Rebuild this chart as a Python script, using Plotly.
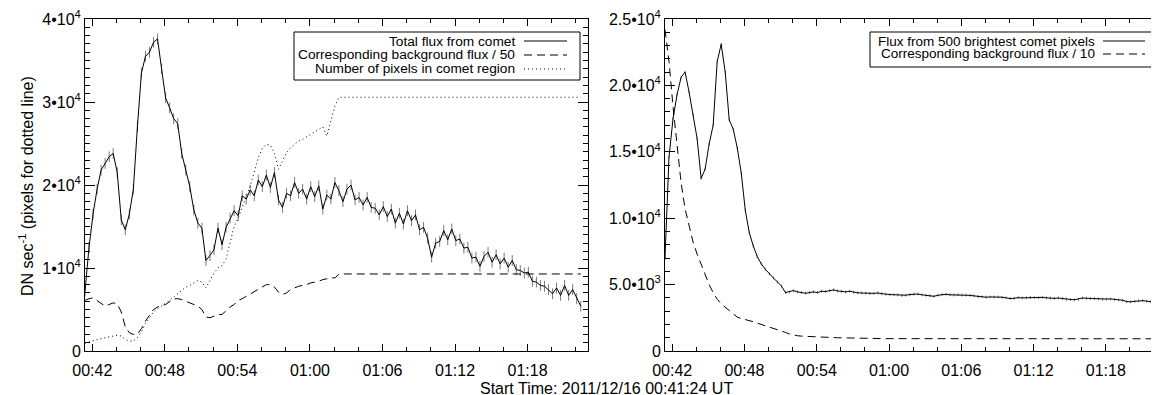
import pandas as pd
import plotly.graph_objects as go

W, H = 1159, 395
FONT = "Liberation Sans, Arial, sans-serif"

START = "2011-12-16 00:41:24"
CADENCE = "20s"

# ---- Left panel data (DN/s, sampled every 20 s from start) ----
total_flux = [
    7200, 12500, 16500, 19500, 21800, 22600, 23400, 23800, 21500, 15800,
    14600, 16500, 19500, 27000, 33500, 35500, 36000, 37200, 37600, 34000,
    30500, 29300, 28000, 27400, 23800, 21800, 19800, 17000, 15400, 14800,
    10900, 11500, 12200, 14800, 12800, 14900, 16000, 16900, 16300, 18700,
    18300, 19400, 18700, 20600, 19800, 21200, 19700, 21500, 18200, 17300,
    19000, 18700, 20300, 19000, 19500, 18300, 19800, 18600, 19900, 17100,
    18800, 18300, 20300, 19300, 18000, 19500, 20000, 18200, 18500, 17600,
    18500, 17300, 17200, 16400, 17400, 16200, 17100, 15400, 16600, 15300,
    16900, 15700, 16400, 14600, 14900, 13600, 11300, 13000, 13200, 14500,
    13400, 14700, 13300, 13500, 12400, 12500, 11200, 11300, 10200, 11400,
    11900, 10700, 11600, 10500, 11200, 10100, 10900, 9800, 9700, 9400,
    9500, 8400, 8300, 7900, 7800, 7400, 6900, 7600, 6700, 7900,
    6700, 7400, 6300, 5400,
]
total_flux_err = 650

background_50 = [
    6100, 6300, 6400, 6100, 5700, 5400, 5600, 5800, 5700, 4700,
    2900, 2200, 2000, 2000, 2700, 3600, 4300, 5000, 5300, 5500,
    5600, 5900, 6300, 6300, 6200, 6000, 5800, 5600, 5400, 5000,
    4100, 4000, 4200, 4400, 4400, 4900, 5300, 5600, 6100, 6300,
    6600, 6800, 7200, 7500, 7800, 8000, 8000, 7700, 7100, 6800,
    7000, 7400, 7600, 7800, 7900, 8000, 8200, 8300, 8400, 8600,
    8700, 8800, 8800, 9250, 9280, 9280, 9280, 9280, 9280, 9280,
    9280, 9280, 9280, 9280, 9280, 9280, 9280, 9280, 9280, 9280,
    9280, 9280, 9280, 9280, 9280, 9280, 9280, 9280, 9280, 9280,
    9280, 9280, 9280, 9280, 9280, 9280, 9280, 9280, 9280, 9280,
    9280, 9280, 9280, 9280, 9280, 9280, 9280, 9280, 9280, 9280,
    9280, 9280, 9280, 9280, 9280, 9280, 9280, 9280, 9280, 9280,
    9280, 9280, 9280, 9280,
]

n_pixels = [
    950, 1100, 1200, 1350, 1500, 1600, 1700, 1800, 1900, 1800,
    1400, 1200, 1200, 1600, 2300, 3300, 4000, 4700, 5100, 5400,
    5800, 6100, 6500, 6900, 7300, 7700, 7900, 8200, 8500, 8300,
    7600, 8500, 9400, 10000, 10300, 11100, 13200, 15000, 16000, 17200,
    18600, 19900, 21600, 23300, 24400, 24900, 24800, 23800, 21900, 22900,
    23900, 24500, 24900, 25300, 25500, 25800, 26100, 26300, 26600, 27000,
    25900, 27700, 29500, 30570, 30570, 30570, 30570, 30570, 30570, 30570,
    30570, 30570, 30570, 30570, 30570, 30570, 30570, 30570, 30570, 30570,
    30570, 30570, 30570, 30570, 30570, 30570, 30570, 30570, 30570, 30570,
    30570, 30570, 30570, 30570, 30570, 30570, 30570, 30570, 30570, 30570,
    30570, 30570, 30570, 30570, 30570, 30570, 30570, 30570, 30570, 30570,
    30570, 30570, 30570, 30570, 30570, 30570, 30570, 30570, 30570, 30570,
    30570, 30570, 30570, 30570,
]

# ---- Right panel data ----
bright_flux = [
    7000, 14600, 17500, 19300, 20600, 21000, 19500, 17800, 16000, 13000,
    13700, 15600, 17000, 21800, 23100, 21000, 17400, 16700, 15300, 13400,
    10600, 8900, 7900, 7100, 6550, 6150, 5800, 5500, 5200, 4900,
    4400, 4450, 4550, 4450, 4400, 4350, 4400, 4450, 4400, 4500,
    4480, 4550, 4600, 4520, 4500, 4450, 4500, 4420, 4380, 4370,
    4350, 4330, 4340, 4370, 4300, 4280, 4250, 4230, 4240, 4180,
    4200, 4250, 4280, 4290, 4230, 4200, 4160, 4120, 4200, 4260,
    4270, 4230, 4220, 4250, 4220, 4200, 4190, 4150, 4100, 4080,
    4050, 4070, 4060, 4080, 4050, 4000, 3950, 3970, 4020, 4000,
    4010, 4030, 4020, 4000, 4040, 4010, 3980, 3960, 3990, 3940,
    3910, 3880, 3860, 3900, 3990, 3970, 3950, 3940, 3930, 3900,
    3910, 3920, 3880, 3850, 3820, 3720, 3700, 3740, 3780, 3790,
    3750, 3720, 3700, 3640,
]
bright_flux_err = 110

background_10 = [
    24200, 21800, 18400, 15300, 12700, 10700, 9400, 8200, 7300, 6500,
    5700, 5000, 4400, 3900, 3550, 3300, 3000, 2750, 2550, 2450,
    2380, 2300, 2200, 2100, 2000, 1950, 1850, 1700, 1600, 1500,
    1400, 1280, 1200, 1150, 1120, 1100, 1080, 1060, 1050, 1040,
    1030, 1020, 1010, 1000, 990, 985, 980, 975, 970, 960,
    955, 950, 945, 940, 935, 930, 930, 930, 930, 930,
    930, 930, 930, 930, 930, 930, 930, 930, 930, 930,
    930, 925, 925, 925, 925, 925, 925, 925, 925, 925,
    925, 925, 925, 925, 925, 925, 925, 925, 925, 925,
    925, 925, 925, 925, 925, 925, 920, 920, 920, 920,
    920, 920, 920, 920, 920, 920, 920, 920, 920, 920,
    920, 920, 920, 920, 920, 920, 920, 920, 920, 920,
    920, 920, 920, 920,
]

left_ticks = [0, 10000, 20000, 30000, 40000]
left_ticktext = ["0", "1\u202210<sup>4</sup>", "2\u202210<sup>4</sup>",
                 "3\u202210<sup>4</sup>", "4\u202210<sup>4</sup>"]
right_ticks = [0, 5000, 10000, 15000, 20000, 25000]
right_ticktext = ["0", "5.0\u202210<sup>3</sup>", "1.0\u202210<sup>4</sup>",
                  "1.5\u202210<sup>4</sup>", "2.0\u202210<sup>4</sup>",
                  "2.5\u202210<sup>4</sup>"]

left_legend = ["Total flux from comet", "Corresponding background flux / 50",
               "Number of pixels in comet region"]
right_legend = ["Flux from 500 brightest comet pixels",
                "Corresponding background flux / 10"]

x_title = "Start Time: 2011/12/16 00:41:24 UT"
y_title = "DN sec<sup>-1</sup> (pixels for dotted line)"

t_left = pd.date_range(START, periods=len(total_flux), freq=CADENCE)
t_right = pd.date_range(START, periods=len(bright_flux), freq=CADENCE)

fig = go.Figure()
ERRC = "#7a7a7a"
fig.add_trace(go.Scatter(x=t_left, y=total_flux, mode="lines",
                         line=dict(color="black", width=1),
                         error_y=dict(type="constant", value=total_flux_err,
                                      color=ERRC, thickness=1, width=0),
                         xaxis="x", yaxis="y"))
fig.add_trace(go.Scatter(x=t_left, y=background_50, mode="lines",
                         line=dict(color="black", width=1, dash="8px,5px"),
                         xaxis="x", yaxis="y"))
fig.add_trace(go.Scatter(x=t_left, y=n_pixels, mode="lines",
                         line=dict(color="black", width=1, dash="1px,3px"),
                         xaxis="x", yaxis="y"))
fig.add_trace(go.Scatter(x=t_right, y=bright_flux, mode="lines",
                         line=dict(color="black", width=1),
                         error_y=dict(type="constant", value=bright_flux_err,
                                      color=ERRC, thickness=1, width=0),
                         xaxis="x2", yaxis="y2"))
fig.add_trace(go.Scatter(x=t_right, y=background_10, mode="lines",
                         line=dict(color="black", width=1, dash="8px,5px"),
                         xaxis="x2", yaxis="y2"))


def px(x):
    return x / W


def py(y):
    return 1 - y / H


xr = ["2011-12-16 00:41:24", "2011-12-16 01:23:00"]
xcommon = dict(type="date", range=xr, tick0="2011-12-16 00:42:00",
               dtick=360000, tickformat="%H:%M", showgrid=False,
               zeroline=False, showline=True, linecolor="black", linewidth=1,
               mirror="allticks", ticks="inside", ticklen=7, tickcolor="black",
               tickwidth=1, tickfont=dict(family=FONT, size=16, color="black"),
               minor=dict(dtick=120000, tick0="2011-12-16 00:42:00",
                          ticks="inside", ticklen=4, tickcolor="black"),
               ticklabelstandoff=5, ticklabeloverflow="allow",
               automargin=False)
ycommon = dict(showgrid=False, zeroline=False, showline=True,
               linecolor="black", linewidth=1, mirror="allticks",
               ticks="inside", ticklen=10, tickcolor="black", tickwidth=1,
               tickfont=dict(family=FONT, size=16, color="black"),
               minor=dict(dtick=1000, ticks="inside", ticklen=5,
                          tickcolor="black"),
               tickmode="array", ticklabeloverflow="allow", automargin=False)

ybot, ytop = py(343), py(11)
fig.update_layout(
    width=W, height=H, autosize=False,
    margin=dict(l=0, r=0, t=0, b=0, pad=0, autoexpand=False),
    paper_bgcolor="white", plot_bgcolor="white",
    showlegend=False,
    xaxis=dict(domain=[px(77), px(580)], anchor="y", **xcommon),
    yaxis=dict(domain=[ybot, ytop], anchor="x", range=[0, 40000],
               tickvals=left_ticks, ticktext=left_ticktext, **ycommon),
    xaxis2=dict(domain=[px(657), px(1158)], anchor="y2", **xcommon),
    yaxis2=dict(domain=[ybot, ytop], anchor="x2", range=[0, 25000],
                tickvals=right_ticks, ticktext=right_ticktext, **ycommon),
)

shapes = []
annotations = []


def legend(box, rows, text_right, line_x0, line_x1, entries, dashes, fs):
    x0, y0, x1, y1 = box
    shapes.append(dict(type="rect", xref="paper", yref="paper",
                       x0=px(x0), x1=px(x1), y0=py(y1), y1=py(y0),
                       line=dict(color="black", width=1), fillcolor="white",
                       layer="above"))
    for ry, label, dash in zip(rows, entries, dashes):
        annotations.append(dict(xref="paper", yref="paper", x=px(text_right),
                                y=py(ry), text=label, showarrow=False,
                                xanchor="right", yanchor="middle",
                                borderpad=0,
                                font=dict(family=FONT, size=fs,
                                          color="black")))
        shapes.append(dict(type="line", xref="paper", yref="paper",
                           x0=px(line_x0), x1=px(line_x1), y0=py(ry),
                           y1=py(ry), line=dict(color="black", width=1,
                                                dash=dash),
                           layer="above"))


legend((286, 24, 572, 72), [33, 47, 61], 508, 516, 559, left_legend,
       ["solid", "8px,5px", "1px,3px"], 13.7)
legend((862, 24, 1148, 59), [33, 46], 1088, 1095, 1137, right_legend,
       ["solid", "8px,5px"], 13.5)

annotations.append(dict(xref="paper", yref="paper", x=px(599), y=py(380),
                        text=x_title, showarrow=False, xanchor="center",
                        yanchor="middle",
                        font=dict(family=FONT, size=16, color="black")))
annotations.append(dict(xref="paper", yref="paper", x=px(18), y=py(178),
                        text=y_title, showarrow=False, textangle=-90,
                        xanchor="center", yanchor="middle",
                        font=dict(family=FONT, size=16, color="black")))

fig.update_layout(shapes=shapes, annotations=annotations)
fig.write_html("out.html")
